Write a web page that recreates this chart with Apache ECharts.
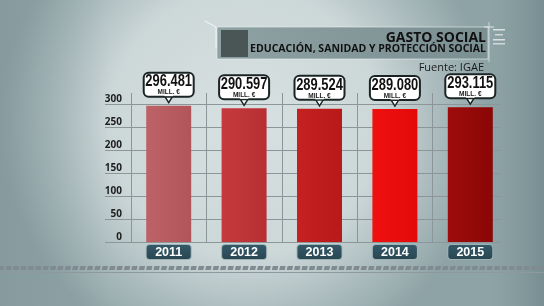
<!DOCTYPE html>
<html><head><meta charset="utf-8">
<script src="https://cdn.jsdelivr.net/npm/echarts@6/dist/echarts.min.js"></script>
<style>html,body{margin:0;padding:0;}#c{width:544px;height:306px;}</style>
</head><body><div id="c"></div>
<script>
const years = ['2011','2012','2013','2014','2015'];
const values = [296.481, 290.597, 289.524, 289.080, 293.115];
const barColors = [['#bd6266','#b1555a'],['#c43a3d','#b82f33'],['#c52121','#b81919'],['#f01010','#e40a0a'],['#9e0c0c','#8a0606']];
const yTicks = [0,50,100,150,200,250,300];
const unitText = 'MILL. €';
const titleMain = 'GASTO SOCIAL';
const titleSub = 'EDUCACIÓN, SANIDAD Y PROTECCIÓN SOCIAL';
const source = 'Fuente: IGAE';

const chart = echarts.init(document.getElementById('c'));
const gridColor = '#8c9598';
const boxStroke = '#1b2424';

const dashes = [];
for (let x = -2; x < 548; x += 7.4) {
  dashes.push({type:'polygon', shape:{points:[[x+1,266],[x+6.5,266],[x+5.5,270],[x,270]]}, style:{fill:'#7f8b90'}, silent:true});
}

function renderCallout(params, api) {
  const p = api.coord([api.value(0), api.value(1)]);
  const cx = p[0], barTop = p[1];
  const bottom = barTop - 9, top = bottom - 24;
  return {type:'group', children:[
    {type:'polygon', shape:{points:[[cx-5, bottom-2],[cx+5, bottom-2],[cx, barTop-3]]}, style:{fill:'#fff', stroke:boxStroke, lineWidth:1.5}},
    {type:'rect', shape:{x:cx-25, y:top, width:50, height:24, r:5}, style:{fill:'#fff', stroke:boxStroke, lineWidth:2}},
    {type:'rect', shape:{x:cx-4.2, y:bottom-2.5, width:8.4, height:2}, style:{fill:'#fff'}},
    {type:'text', x:cx, y:top+9, scaleX:0.76, style:{x:0, y:0, text:api.value(1).toFixed(3), align:'center', verticalAlign:'middle', font:"bold 17px 'Liberation Sans', Arial, sans-serif", fill:'#111'}},
    {type:'text', x:cx, y:top+20, style:{x:0, y:0, text:unitText, align:'center', verticalAlign:'middle', font:"bold 6.5px 'Liberation Sans', Arial, sans-serif", fill:'#222'}}
  ]};
}

chart.setOption({
  animation:false,
  graphic:[
    {type:'rect', z:-10, shape:{x:0,y:0,width:544,height:306}, style:{fill:{type:'radial',x:0.45,y:0.4,r:0.8,colorStops:[{offset:0,color:'#d8e1e2'},{offset:0.55,color:'#ccd7d8'},{offset:1,color:'#8ea3a6'}]}}, silent:true},
    {type:'rect', z:-9, shape:{x:0,y:0,width:544,height:306}, style:{fill:{type:'linear',x:0,y:0,x2:1,y2:0,colorStops:[{offset:0,color:'rgba(120,140,145,0.35)'},{offset:0.2,color:'rgba(120,140,145,0)'},{offset:0.9,color:'rgba(120,140,145,0)'},{offset:1,color:'rgba(90,115,120,0.45)'}]}}, silent:true},
    ...dashes,
    {type:'rect', shape:{x:0,y:272,width:544,height:1}, style:{fill:'#8d999d'}, silent:true},
    {type:'rect', shape:{x:217,y:27,width:271,height:32}, style:{fill:{type:'linear',x:0,y:0,x2:1,y2:0,colorStops:[{offset:0,color:'#8ea1a3'},{offset:1,color:'#7a8f92'}]}, stroke:'rgba(235,242,242,0.6)', lineWidth:1}, silent:true},
    {type:'rect', shape:{x:221,y:30,width:27,height:27}, style:{fill:'#4a5556'}, silent:true},
    {type:'line', shape:{x1:205,y1:21,x2:216,y2:27}, style:{stroke:'rgba(255,255,255,0.8)', lineWidth:1}, silent:true},
    {type:'line', shape:{x1:216,y1:27,x2:216,y2:48}, style:{stroke:'rgba(255,255,255,0.7)', lineWidth:1}, silent:true},
    {type:'line', shape:{x1:489,y1:22,x2:489,y2:62}, style:{stroke:'rgba(255,255,255,0.55)', lineWidth:1}, silent:true},
    {type:'line', shape:{x1:484,y1:27,x2:494,y2:27}, style:{stroke:'rgba(255,255,255,0.7)', lineWidth:1}, silent:true},
    {type:'rect', shape:{x:493,y:29,width:12,height:1.5}, style:{fill:'rgba(255,255,255,0.7)'}, silent:true},
    {type:'rect', shape:{x:495,y:34,width:8,height:1.5}, style:{fill:'rgba(255,255,255,0.6)'}, silent:true},
    {type:'rect', shape:{x:493,y:39,width:12,height:1.5}, style:{fill:'rgba(255,255,255,0.7)'}, silent:true},
    {type:'rect', shape:{x:493,y:43,width:12,height:1.5}, style:{fill:'rgba(255,255,255,0.6)'}, silent:true},
    {type:'text', style:{text:titleMain, x:486, y:38, align:'right', verticalAlign:'middle', font:"bold 14px 'Open Sans', sans-serif", fill:'#111'}, silent:true},
    {type:'text', style:{text:titleSub, x:486, y:49, align:'right', verticalAlign:'middle', font:"bold 10.5px 'Open Sans', sans-serif", fill:'#111'}, silent:true},
    {type:'text', style:{text:source, x:484, y:67.5, align:'right', verticalAlign:'middle', font:"11px 'Open Sans', sans-serif", fill:'#1a1a1a'}, silent:true}
  ],
  grid:[
    {left:105, right:43, top:93, bottom:64},
    {left:131, right:36, top:93, bottom:64}
  ],
  xAxis:[
    {gridIndex:0, type:'category', data:[''], show:false},
    {gridIndex:1, type:'category', data:years,
     axisLine:{show:false}, axisTick:{show:false},
     splitLine:{show:true, showMaxLine:false, lineStyle:{color:gridColor, width:1}},
     axisLabel:{margin:3, color:'#fff', fontFamily:"'Liberation Sans', Arial, sans-serif", fontWeight:'bold', fontSize:12.5,
       backgroundColor:{type:'linear',x:0,y:0,x2:0,y2:1,colorStops:[{offset:0,color:'#35596a'},{offset:1,color:'#284650'}]},
       borderColor:'#9fb3b7', borderWidth:1, borderRadius:3, width:44, height:14, lineHeight:15, align:'center', padding:0}}
  ],
  yAxis:[
    {gridIndex:0, type:'value', min:0, max:324, interval:50,
     axisLine:{show:false}, axisTick:{show:false},
     splitLine:{show:true, showMaxLine:false, lineStyle:{color:gridColor, width:1}},
     axisLabel:{showMaxLabel:false, margin:-17, align:'right', verticalAlign:'bottom', color:'#1e1e1e', fontWeight:'bold', fontSize:10, fontFamily:"'Open Sans', sans-serif",
       formatter: v => yTicks.includes(v) ? String(v) : ''}},
    {gridIndex:1, type:'value', min:0, max:324, interval:50, show:false}
  ],
  series:[
    {type:'bar', xAxisIndex:1, yAxisIndex:1, barWidth:45, z:2,
     data: values.map((v,i)=>({value:v, itemStyle:{color:{type:'linear',x:0,y:0,x2:1,y2:0,colorStops:[{offset:0,color:barColors[i][0]},{offset:1,color:barColors[i][1]}]}}}))},
    {type:'custom', xAxisIndex:1, yAxisIndex:1, z:3, silent:true,
     data: values.map((v,i)=>[i,v]), encode:{x:0, y:1},
     renderItem: renderCallout}
  ]
});
</script></body></html>
